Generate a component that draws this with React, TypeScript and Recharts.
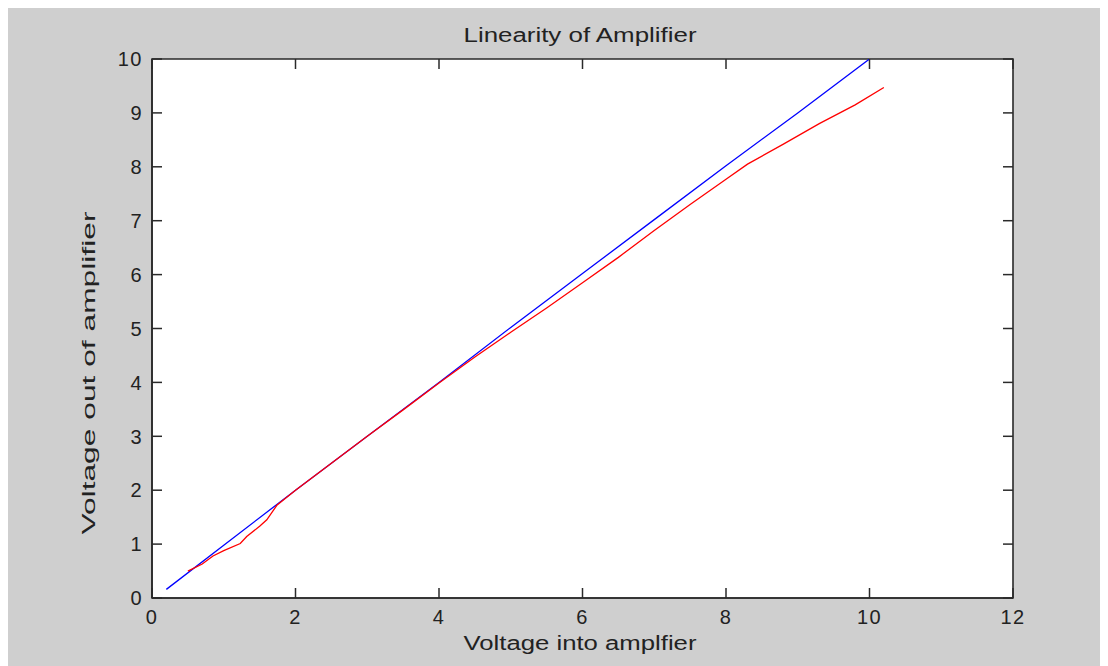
import React from 'react';
import { LineChart, Line, XAxis, YAxis, CartesianGrid, ReferenceArea } from 'recharts';

// ideal (blue) response
const blueX = [0.2, 1.0, 2.0, 3.0, 4.0, 5.0, 6.0, 7.0, 8.0, 9.0, 10.0];
const blueY = [0.16, 0.98, 2.0, 3.0, 4.0, 5.02, 6.02, 7.02, 8.02, 9.0, 10.0];

// measured (red) response
const redX = [0.5, 0.7, 0.85, 1.0, 1.23, 1.32, 1.5, 1.6, 1.74, 2.0, 2.5, 3.0, 3.5, 4.0, 4.5, 5.0, 5.5, 6.0, 6.5, 7.0, 7.5, 8.0, 8.3, 8.8, 9.3, 9.8, 10.2];
const redY = [0.5, 0.63, 0.78, 0.88, 1.01, 1.14, 1.33, 1.45, 1.72, 2.0, 2.5, 3.0, 3.49, 3.99, 4.47, 4.93, 5.38, 5.85, 6.32, 6.82, 7.3, 7.77, 8.05, 8.42, 8.8, 9.15, 9.47];

const xTicks = [0, 2, 4, 6, 8, 10, 12];
const yTicks = [0, 1, 2, 3, 4, 5, 6, 7, 8, 9, 10];

const blueData = blueX.map((x, i) => ({ x, y: blueY[i] }));
const redData = redX.map((x, i) => ({ x, y: redY[i] }));

const W = 1100;
const H = 658;
const MARGIN = { top: 51, right: 95, bottom: 0, left: 0 };
const Y_AXIS_W = 144;
const X_AXIS_H = 68;
const PLOT_TOP = MARGIN.top;
const PLOT_RIGHT = W - MARGIN.right;
const TICK = 10;

const BG = '#cfcfcf';
const AXIS = '#2a2a2a';
const FONT = 'Arial, "Liberation Sans", sans-serif';

// matlab style: ticks point inward, mirrored on the opposite side
const BottomTick = (props: any) => {
  const { x, y, payload } = props;
  return (
    <g>
      <line x1={x} x2={x} y1={y} y2={y - TICK} stroke={AXIS} strokeWidth={1.5} />
      <line x1={x} x2={x} y1={PLOT_TOP} y2={PLOT_TOP + TICK} stroke={AXIS} strokeWidth={1.5} />
      <text x={x} y={y + 26} textAnchor="middle" fontSize={20} fontFamily={FONT} fill="#222" letterSpacing={1.5}>
        {payload.value}
      </text>
    </g>
  );
};

const LeftTick = (props: any) => {
  const { x, y, payload } = props;
  return (
    <g>
      <line x1={x} x2={x + TICK} y1={y} y2={y} stroke={AXIS} strokeWidth={1.5} />
      <line x1={PLOT_RIGHT - TICK} x2={PLOT_RIGHT} y1={y} y2={y} stroke={AXIS} strokeWidth={1.5} />
      <text x={x - 9} y={y} dy="0.36em" textAnchor="end" fontSize={20} fontFamily={FONT} fill="#222" letterSpacing={1.5}>
        {payload.value}
      </text>
    </g>
  );
};

export default function App() {
  return (
    <div style={{ position: 'relative', width: W, height: H, background: BG }}>
      <LineChart width={W} height={H} margin={MARGIN}>
        <CartesianGrid horizontal={false} vertical={false} fill="#ffffff" fillOpacity={1} />
        <ReferenceArea x1={0} x2={12} y1={0} y2={10} fill="none" stroke={AXIS} strokeWidth={1.6} />
        <XAxis
          dataKey="x"
          type="number"
          domain={[0, 12]}
          ticks={xTicks}
          height={X_AXIS_H}
          tickSize={0}
          tickMargin={0}
          tickLine={false}
          tick={BottomTick}
          stroke={AXIS}
          strokeWidth={1.6}
          allowDataOverflow
        />
        <YAxis
          type="number"
          domain={[0, 10]}
          ticks={yTicks}
          width={Y_AXIS_W}
          tickSize={0}
          tickMargin={0}
          tickLine={false}
          tick={LeftTick}
          stroke={AXIS}
          strokeWidth={1.6}
          allowDataOverflow
        />
        <Line data={blueData} dataKey="y" stroke="#0000ff" strokeWidth={1.3} dot={false} isAnimationActive={false} />
        <Line data={redData} dataKey="y" stroke="#ff0000" strokeWidth={1.3} dot={false} isAnimationActive={false} />
      </LineChart>
      <svg width={W} height={H} style={{ position: 'absolute', left: 0, top: 0, pointerEvents: 'none' }}>
        <text x={572} y={34} textAnchor="middle" fontSize={20} fontFamily={FONT} fill="#222" textLength={233} lengthAdjust="spacingAndGlyphs">
          Linearity of Amplifier
        </text>
        <text x={572} y={642} textAnchor="middle" fontSize={20} fontFamily={FONT} fill="#222" textLength={233} lengthAdjust="spacingAndGlyphs">
          Voltage into amplfier
        </text>
        <text x={87} y={365} transform="rotate(-90 87 365)" textAnchor="middle" fontSize={19} fontFamily={FONT} fill="#222" textLength={323} lengthAdjust="spacingAndGlyphs">
          Voltage out of amplifier
        </text>
      </svg>
    </div>
  );
}
